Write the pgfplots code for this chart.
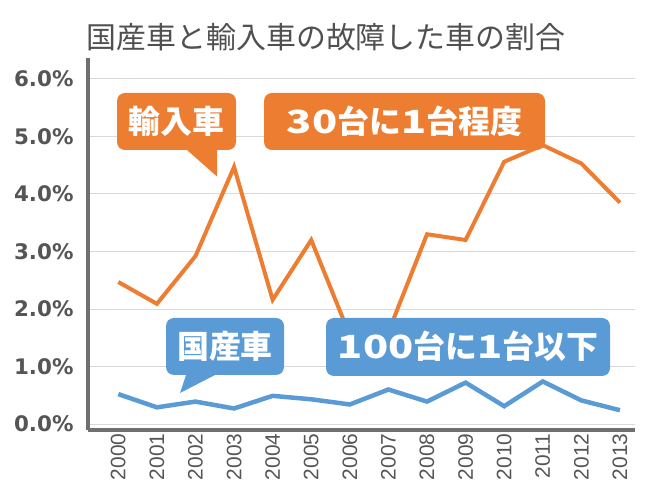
\documentclass[border=0pt]{standalone}
\usepackage{pgfplots}
\pgfplotsset{compat=1.18}
\usepackage{fontspec}
\setmainfont{Liberation Sans}
\newfontfamily\cjk{Noto Sans CJK JP}
\newfontfamily\djv{DejaVu Sans}
\definecolor{xorange}{RGB}{237,125,49}
\definecolor{xblue}{RGB}{91,155,213}
\definecolor{axgray}{RGB}{112,112,112}
\definecolor{gridgray}{RGB}{217,217,217}
\definecolor{txtgray}{RGB}{85,85,85}
\definecolor{titlegray}{RGB}{80,80,80}
\newcommand{\wdg}[1]{\scalebox{1.3}[1]{#1}}
\begin{document}
\begin{tikzpicture}
\begin{scope}[x=1bp,y=1bp]
\useasboundingbox (0,0) rectangle (650,488);
\end{scope}
\begin{axis}[
 at={(88bp,58bp)}, anchor=south west, scale only axis,
 width=547bp, height=372bp,
 xmin=-0.785, xmax=13.39, ymin=-0.104, ymax=6.365,
 axis x line=bottom, axis y line=left,
 axis line style={-, line width=3.5bp, axgray},
 xtick={0,...,13},
 xticklabels={2000,2001,2002,2003,2004,2005,2006,2007,2008,2009,2010,2011,2012,2013},
 ytick={0,...,6},
 yticklabels={0.0\%,1.0\%,2.0\%,3.0\%,4.0\%,5.0\%,6.0\%},
 major tick length=0pt,
 ymajorgrids, grid style={gridgray, line width=1bp},
 xticklabel style={rotate=90, anchor=east, font=\fontsize{21}{21}\selectfont, text=txtgray},
 yticklabel style={font=\djv\bfseries\fontsize{21.5}{21.5}\selectfont, text=txtgray, xshift=-11bp},
]
\addplot[xorange, line width=4bp] coordinates {
 (0,2.47)(1,2.09)(2,2.92)(3,4.47)(4,2.16)(5,3.2)(6,1.54)(7,1.6)(8,3.3)(9,3.2)(10,4.56)(11,4.85)(12,4.53)(13,3.85)};
\addplot[xblue, line width=4.5bp] coordinates {
 (0,0.52)(1,0.29)(2,0.39)(3,0.27)(4,0.49)(5,0.43)(6,0.34)(7,0.6)(8,0.39)(9,0.72)(10,0.31)(11,0.74)(12,0.41)(13,0.24)};
\end{axis}
\begin{scope}[x=1bp,y=1bp]
\node[font=\cjk\fontsize{30}{30}\selectfont, text=titlegray] at (326,450.5) {国産車と輸入車の故障した車の割合};
% orange callouts
\fill[xorange, rounded corners=8bp] (117,338) rectangle (236,395);
\fill[xorange] (186.5,340) -- (217,340) -- (217,311.5) -- (187,338) -- cycle;
\fill[xorange, rounded corners=8bp] (264,338) rectangle (545,395);
\node[font=\cjk\bfseries\fontsize{32}{32}\selectfont, text=white] at (176.5,366.5) {輸入車};
\node[font=\cjk\bfseries\fontsize{32}{32}\selectfont, text=white] at (404.5,366.5) {\wdg{30}台に\wdg{1}台程度};
% blue callouts
\fill[xblue, rounded corners=8bp] (166,113) rectangle (284,170);
\fill[xblue] (185,115) -- (215,115) -- (215,113) -- (180,95) -- (186,113) -- cycle;
\fill[xblue, rounded corners=8bp] (326,112) rectangle (610,170);
\node[font=\cjk\bfseries\fontsize{32}{32}\selectfont, text=white] at (225,141.5) {国産車};
\node[font=\cjk\bfseries\fontsize{32}{32}\selectfont, text=white] at (468,141.5) {\wdg{100}台に\wdg{1}台以下};
\end{scope}
\end{tikzpicture}
\end{document}
